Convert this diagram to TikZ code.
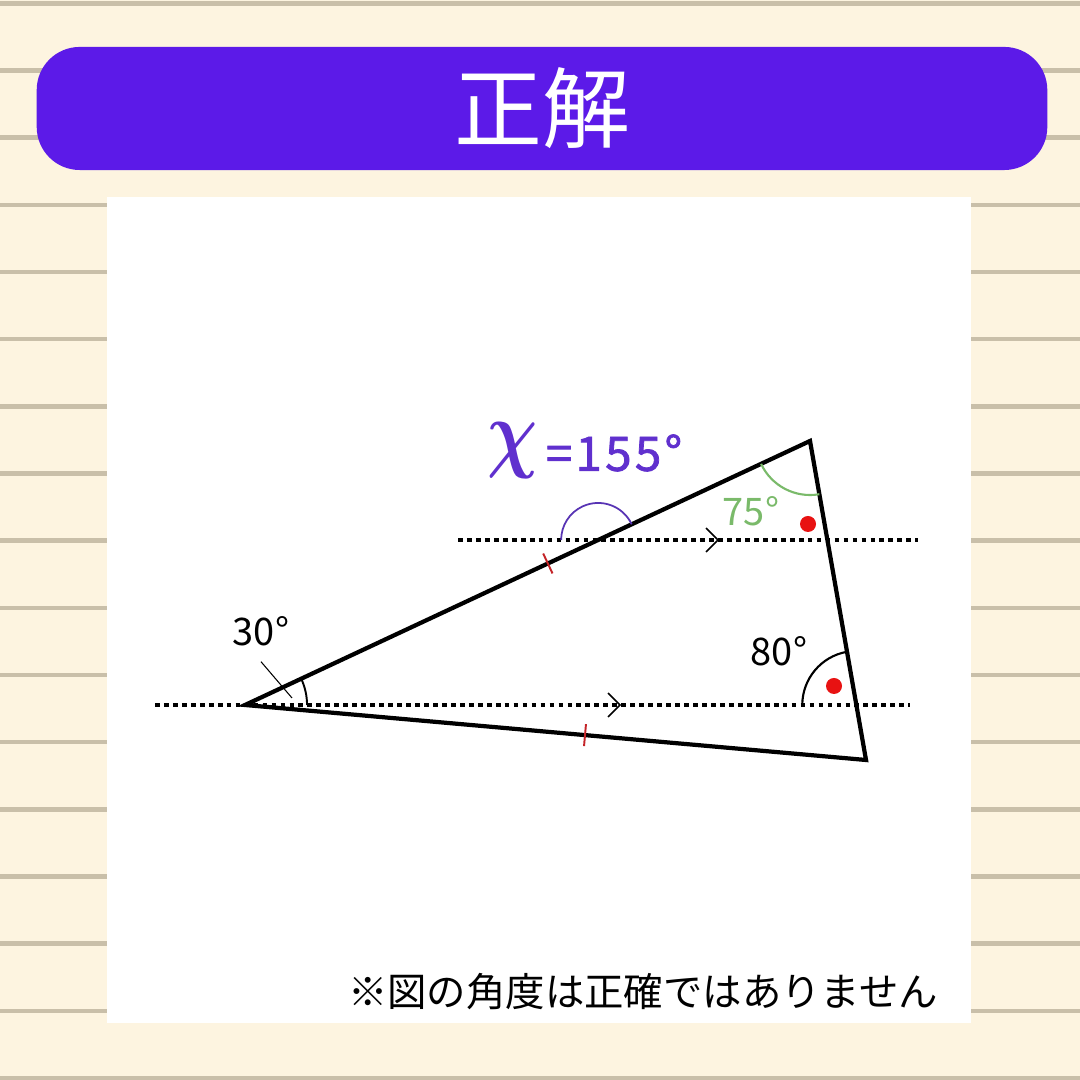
\documentclass[tikz,border=0pt]{standalone}
\usepackage{fontspec}
\setmainfont{Noto Sans CJK JP}
\newfontfamily\valfont[LetterSpace=7, FakeBold=1.6]{Noto Sans CJK JP}
\definecolor{paper}{RGB}{253, 244, 224}
\definecolor{ruleline}{RGB}{201, 191, 169}
\definecolor{banner}{RGB}{92, 26, 232}
\definecolor{anspurple}{RGB}{96, 48, 206}
\definecolor{arcpurple}{RGB}{88, 52, 180}
\definecolor{arcgreen}{RGB}{122, 186, 106}
\definecolor{tickred}{RGB}{196, 36, 40}
\definecolor{dotred}{RGB}{232, 18, 18}
\usetikzlibrary{calc, angles}

\begin{document}
\begin{tikzpicture}[x=0.01cm, y=0.01cm,
  dotline/.style={line width=1.35pt, dash pattern=on 1.35pt off 1.2pt},
  chev/.style={line width=0.45pt},
  tri/.style={line width=1.2pt},
  tickmark/.style={tickred, line width=0.55pt},
  anglabel/.style={font=\fontsize{10.8}{12}\selectfont}]
  % ruled paper
  \fill[paper] (0,0) rectangle (1080,1080);
  \useasboundingbox (0,0) rectangle (1080,1080);
  \foreach \k in {0,...,16}
    \draw[ruleline, line width=1.3pt] (0,{1076.7-67.17*\k}) -- (1080,{1076.7-67.17*\k});

  % title
  \node[fill=banner, rounded corners=0.43cm, minimum width=10.1cm, minimum height=1.23cm, inner sep=0pt,
        text=white, font=\fontsize{25}{28}\selectfont] (banner) at (542,971.5) {正解};

  % panel
  \fill[white] (107,57) rectangle (971,883);

  % points
  \coordinate (A) at (245,375);
  \coordinate (B) at (810,639);
  \coordinate (C) at (866,320);
  \coordinate (U1) at (458,540);
  \coordinate (U2) at (918,540);
  \coordinate (L1) at (155,375);
  \coordinate (L2) at (910,375);
  \coordinate (P) at (intersection of A--B and U1--U2);
  \coordinate (Q) at (intersection of B--C and L1--L2);

  % parallel lines
  \draw[dotline] (U1) -- (U2);
  \draw[dotline] (L1) -- (L2);
  \draw[chev] (706,552) -- (718,540) -- (706,528);
  \draw[chev] (608,387) -- (620,375) -- (608,363);

  % triangle
  \draw[tri] (A) -- (B) -- (C) -- cycle;

  % equal sides
  \coordinate (M1) at ($(A)!0.536!(B)$);
  \coordinate (M2) at ($(A)!0.5475!(C)$);
  \draw[tickmark] ($(M1)!0.11cm!90:(B)$) -- ($(M1)!0.11cm!-90:(B)$);
  \draw[tickmark] ($(M2)!0.11cm!90:(C)$) -- ($(M2)!0.11cm!-90:(C)$);

  % angles
  \pic[draw, line width=0.55pt, angle radius=0.62cm] {angle = L2--A--B};
  \pic[draw=arcgreen, line width=0.6pt, angle radius=0.54cm] {angle = A--B--C};
  \pic[draw=arcpurple, line width=0.5pt, angle radius=0.37cm] {angle = B--P--U1};
  \pic[draw, line width=0.6pt, angle radius=0.54cm] {angle = B--Q--L1};
  \fill[dotred] (808,556) circle[radius=0.08cm];
  \fill[dotred] (834,394) circle[radius=0.08cm];

  % labels
  \node[anglabel] (lbl30) at (261,449) {30°};
  \coordinate (lead) at (292,382);
  \draw[line width=0.3pt] ([yshift=-1pt]lbl30.south) -- (lead);
  \node[anglabel, text=arcgreen] (lbl75) at (751,569) {75°};
  \node[anglabel] (lbl80) at (779,429) {80°};

  % answer
  \node[text=anspurple, font=\fontsize{24}{26}\selectfont\boldmath, inner sep=0pt] (xvar) at (513,629) {\scalebox{0.8}[1]{$\chi$}};
  \node[text=anspurple, font=\valfont\fontsize{13.5}{15}\selectfont, inner sep=0pt] (xval) at (614,627) {=155°};

  \node[font=\fontsize{11.2}{13}\selectfont] (note) at (643,88) {※図の角度は正確ではありません};
\end{tikzpicture}
\end{document}
